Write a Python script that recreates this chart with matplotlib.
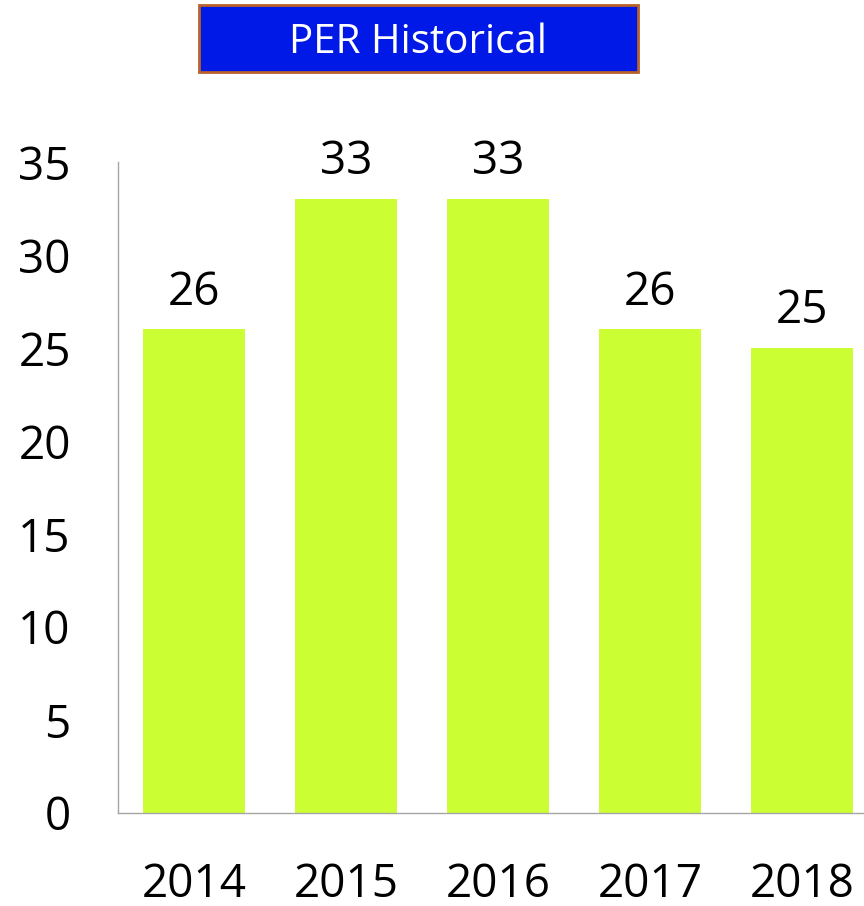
import matplotlib
matplotlib.use('Agg')
from matplotlib import pyplot as plt
from matplotlib.patches import Rectangle

years = ['2014', '2015', '2016', '2017', '2018']
per = [26, 33, 33, 26, 25]

plt.rcParams['font.family'] = ['Open Sans', 'DejaVu Sans']

fig = plt.figure(figsize=(8.64, 9.06), dpi=100)
ax = fig.add_axes([118 / 864, 93 / 906, 760 / 864, 651 / 906])

x = list(range(len(years)))
bars = ax.bar(x, per, width=0.67, color='#CCFF33')
for b, v in zip(bars, per):
    ax.annotate(str(v), (b.get_x() + b.get_width() / 2, v),
                xytext=(0, 10), textcoords='offset points',
                ha='center', va='bottom', fontsize=33)

ax.set_xlim(-0.5, 4.5)
ax.set_ylim(0, 35)
ax.set_yticks(range(0, 36, 5))
ax.set_xticks(x)
ax.set_xticklabels(years)
ax.tick_params(axis='both', length=0, labelsize=33)
ax.tick_params(axis='y', pad=34)
ax.tick_params(axis='x', pad=35)
for s in ['top', 'right']:
    ax.spines[s].set_visible(False)
for s in ['left', 'bottom']:
    ax.spines[s].set_color('#A6A6A6')
    ax.spines[s].set_linewidth(1)

# title box
fig.patches.append(Rectangle((199 / 864, 1 - 72 / 906), 439 / 864, 67 / 906,
                             transform=fig.transFigure, facecolor='#0019E6',
                             edgecolor='#B8612A', linewidth=2))
fig.text(418 / 864, 1 - 43 / 906, 'PER Historical', color='white',
         fontsize=29, ha='center', va='center')

fig.savefig('out.png', dpi=100)
